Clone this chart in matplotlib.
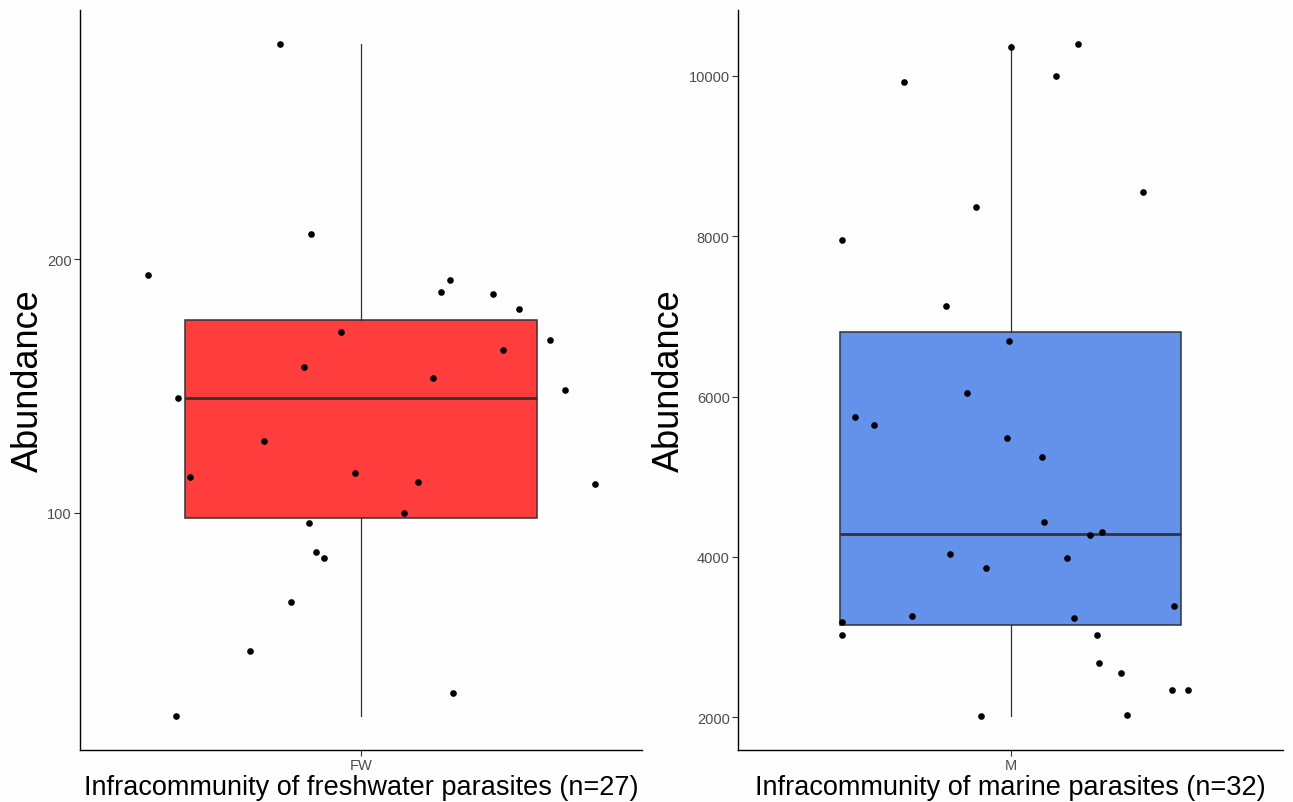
import numpy as np
import matplotlib.pyplot as plt

plt.rcParams['font.family'] = ['Liberation Sans', 'DejaVu Sans']

# abundance per host and the horizontal jitter offset of each dot
fw_abundance = [285.2, 210.0, 193.9, 191.8, 187.0, 186.3, 180.5, 171.5, 168.1,
                164.2, 157.3, 153.0, 148.3, 145.3, 128.2, 114.1, 115.8, 111.9,
                111.3, 100.0, 95.9, 84.6, 81.9, 64.5, 45.2, 28.6, 19.5]
fw_jitter = [-0.174, -0.107, -0.455, 0.189, 0.171, 0.281, 0.337, -0.042, 0.403,
             0.303, -0.121, 0.154, 0.436, -0.390, -0.207, -0.365, -0.013, 0.122,
             0.500, 0.092, -0.111, -0.096, -0.078, -0.149, -0.236, 0.196, -0.395]

m_abundance = [10361, 10402, 9925, 9995, 8546, 8368, 7956, 7129, 6698, 6050,
               5751, 5642, 5484, 5247, 4430, 4313, 4272, 4035, 3989, 3864,
               3387, 3259, 3237, 3191, 3029, 3029, 2677, 2548, 2340, 2344,
               2012, 2029]
m_jitter = [0.000, 0.149, -0.234, 0.100, 0.292, -0.075, -0.371, -0.141, -0.003,
            -0.095, -0.342, -0.300, -0.007, 0.070, 0.074, 0.202, 0.175, -0.134,
            0.124, -0.053, 0.359, -0.217, 0.139, -0.372, -0.371, 0.190, 0.195,
            0.243, 0.355, 0.391, -0.064, 0.256]

panels = [
    ('FW', fw_abundance, fw_jitter, '#FF3D3D', [100, 200],
     'Infracommunity of freshwater parasites (n=27)'),
    ('M', m_abundance, m_jitter, '#6492EA', [2000, 4000, 6000, 8000, 10000],
     'Infracommunity of marine parasites (n=32)'),
]

W, H = 1293, 803
fig = plt.figure(figsize=(W / 100, H / 100), dpi=100, facecolor='#FDFDFD')
rects = [(80, 11, 642, 751), (738, 11, 1283, 751)]

for (cat, vals, jit, fill, yticks, xlab), (x0, y0, x1, y1) in zip(panels, rects):
    ax = fig.add_axes([x0 / W, 1 - y1 / H, (x1 - x0) / W, (y1 - y0) / H])
    ax.set_facecolor('#FDFDFD')

    bp = ax.boxplot([vals], positions=[1], widths=0.75, patch_artist=True,
                    showcaps=False, showfliers=False, whis=1.5,
                    boxprops=dict(facecolor=fill, edgecolor='#333333', linewidth=1.1),
                    whiskerprops=dict(color='#333333', linewidth=0.9),
                    medianprops=dict(color='#333333', linewidth=2.0),
                    zorder=1)

    ax.scatter(1 + np.array(jit), vals, s=23, color='black', linewidths=0, zorder=3)

    lo, hi = min(vals), max(vals)
    pad = (hi - lo) * 0.05
    ax.set_ylim(lo - pad, hi + pad)
    ax.set_xlim(0.4, 1.6)
    ax.set_xticks([1])
    ax.set_xticklabels([cat])
    ax.set_yticks(yticks)
    ax.set_yticklabels([str(t) for t in yticks])

    for s in ['top', 'right']:
        ax.spines[s].set_visible(False)
    for s in ['left', 'bottom']:
        ax.spines[s].set_linewidth(1.0)
        ax.spines[s].set_color('black')
    ax.tick_params(length=4, width=0.8, color='#333333', labelcolor='#4D4D4D',
                   labelsize=10.5, pad=2)

    ax.set_ylabel('Abundance', fontsize=26, labelpad=1, color='black')
    ax.set_xlabel(xlab, fontsize=19.5, labelpad=1, color='black')

fig.savefig('out.png', dpi=100, facecolor=fig.get_facecolor())
